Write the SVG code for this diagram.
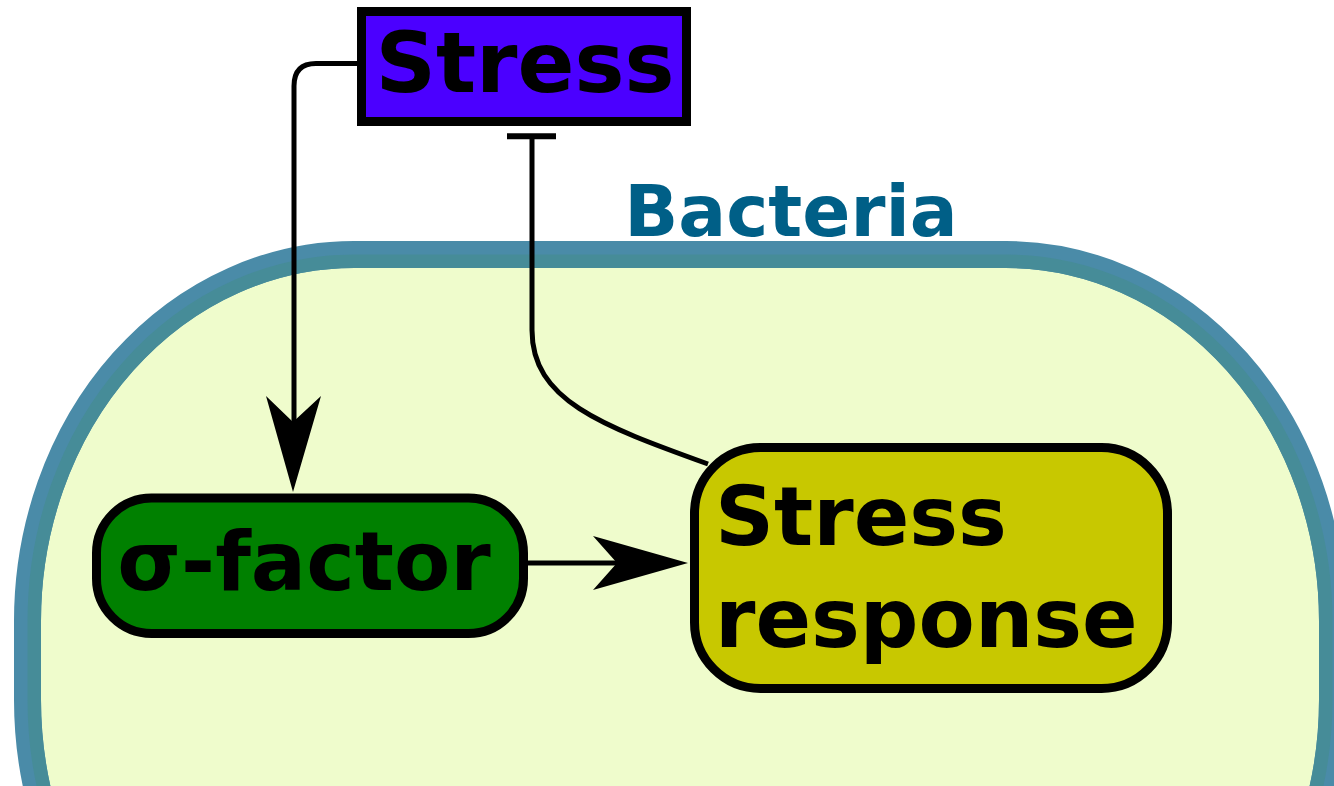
<svg xmlns="http://www.w3.org/2000/svg" width="1334" height="786" viewBox="0 0 1334 786">
  <style>
    .label { font-family: "DejaVu Sans", "Liberation Sans", sans-serif; font-weight: bold; fill: #000; }
    .edge { fill: none; stroke: #000; stroke-width: 5; }
    .head { fill: #000; stroke: none; }
    .node { stroke: #000; stroke-width: 9; }
  </style>

  <rect width="1334" height="786" fill="#ffffff"/>

  <!-- cell envelope: two-tone membrane around a pale cytoplasm -->
  <g id="bacteria">
    <rect x="27.5" y="254.5" width="1305" height="812" rx="326.5" ry="366.5" fill="#effccc" stroke="#4a8ba8" stroke-width="27"/>
    <rect x="34.25" y="261.25" width="1291.5" height="798.5" rx="319.75" ry="359.75" fill="none" stroke="#468c98" stroke-width="13.5"/>
    <text x="791" y="236" text-anchor="middle" font-family="DejaVu Sans, Liberation Sans, sans-serif" font-weight="bold" font-size="71" fill="#005f87">Bacteria</text>
  </g>

  <!-- connectors -->
  <g id="connectors">
    <!-- Stress activates sigma factor -->
    <path class="edge" d="M358,63.5 H316 Q294,63.5 294,86 V425"/>
    <polygon class="head" points="293,492 266,396 293,422 321,396"/>
    <!-- sigma factor drives the stress response -->
    <path class="edge" d="M527,563 H630"/>
    <polygon class="head" points="688,563 593,536 617,563 593,590"/>
    <!-- stress response inhibits stress -->
    <path class="edge" d="M708,464 C600,425 532,400 532,330 V136" stroke-width="4.5"/>
    <line x1="507" y1="136.3" x2="556" y2="136.3" stroke="#000" stroke-width="6"/>
  </g>

  <g id="stress">
    <rect class="node" x="361.5" y="11.5" width="325" height="110" fill="#4b00ff"/>
    <text class="label" x="525" y="92" text-anchor="middle" font-size="84">Stress</text>
  </g>

  <g id="sigma-factor">
    <rect class="node" x="96.5" y="498" width="427" height="135.5" rx="55" ry="55" fill="#008000"/>
    <text class="label" x="304" y="590" text-anchor="middle" font-size="82">σ-factor</text>
  </g>

  <g id="stress-response">
    <rect class="node" x="694.5" y="447.5" width="473" height="241" rx="66" ry="66" fill="#c8c800"/>
    <text class="label" x="715" y="545" font-size="82">Stress</text>
    <text class="label" x="715" y="647" font-size="82">response</text>
  </g>
</svg>
